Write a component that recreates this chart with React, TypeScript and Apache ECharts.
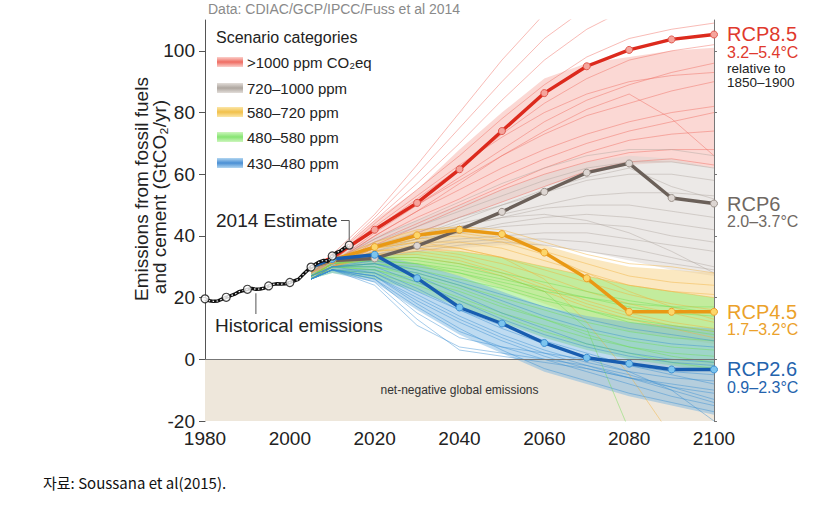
import React, { useEffect, useRef } from "react";
import * as echarts from "echarts";

const FONT = "Liberation Sans, Arial, Helvetica, sans-serif";

// ---- axis ticks ----
const X_TICKS = [1980, 2000, 2020, 2040, 2060, 2080, 2100];
const Y_TICKS = [-20, 0, 20, 40, 60, 80, 100];

// ---- historical emissions (GtCO2/yr) ----
const HIST_YEARS = [
  1980, 1981, 1982, 1983, 1984, 1985, 1986, 1987, 1988, 1989, 1990, 1991, 1992, 1993, 1994, 1995, 1996,
  1997, 1998, 1999, 2000, 2001, 2002, 2003, 2004, 2005, 2006, 2007, 2008, 2009, 2010, 2011, 2012, 2013, 2014,
];
const HIST_VALUES = [
  19.6, 19.0, 18.8, 18.9, 19.5, 20.1, 20.6, 21.1, 21.9, 22.3, 22.7, 23.0, 22.7, 22.8, 23.1, 23.8, 24.3,
  24.5, 24.4, 24.5, 24.9, 25.4, 25.9, 27.3, 28.6, 29.9, 30.8, 31.6, 32.1, 31.8, 33.5, 34.6, 35.2, 36.2, 37.0,
];
const HIST_MARKER_YEARS = [1980, 1985, 1990, 1995, 2000, 2005, 2010, 2014];

// ---- scenario years ----
const SCEN_YEARS = [2005, 2010, 2020, 2030, 2040, 2050, 2060, 2070, 2080, 2090, 2100];

// ---- RCP pathways ----
const RCP85 = [29.9, 33.0, 42.0, 50.7, 61.6, 74.0, 86.3, 95.0, 100.3, 103.7, 105.3];
const RCP6 = [29.9, 32.0, 32.7, 36.8, 42.0, 47.8, 54.3, 60.5, 63.5, 52.3, 50.5];
const RCP45 = [29.9, 32.2, 36.4, 40.2, 42.0, 40.6, 34.6, 26.3, 15.4, 15.4, 15.4];
const RCP26 = [29.9, 32.5, 33.9, 26.3, 16.8, 11.6, 5.3, 0.5, -1.4, -3.3, -3.3];

// ---- scenario category envelopes (dense part of each bundle) ----
const RED_LOW = [26, 29, 35, 40, 46, 51, 56, 60, 63, 64, 62];
const RED_HIGH = [30, 33, 45, 55, 68, 80, 91, 96, 98, 100, 101];
const GRAY_LOW = [27, 29, 32, 34, 36, 37, 37, 35, 32, 29, 27];
const GRAY_HIGH = [30, 33, 40, 45, 50, 55, 60, 64, 66, 65, 62];
const ORANGE_LOW = [26, 29, 31, 30, 27, 23, 18, 13, 9, 7, 5];
const ORANGE_HIGH = [30, 33, 38, 42, 43, 41, 37, 33, 30, 29, 28];
const GREEN_LOW = [26, 28, 26, 22, 17, 12, 7, 3, 0, -2, -4];
const GREEN_HIGH = [29, 32, 33, 35, 35, 33, 30, 27, 24, 22, 20];
const BLUE_LOW = [26, 28, 25, 16, 8, 2, -4, -8, -12, -15, -18];
const BLUE_HIGH = [29, 32, 34, 31, 27, 22, 17, 14, 12, 11, 10];

// ---- individual scenario lines ----
const RED_LINES = [
  [29, 34, 47, 63, 80, 97, 112, 125, 135, 142, 148],
  [28, 33, 46, 60, 75, 90, 104, 114, 122, 128, 133],
  [28, 33, 45, 57, 70, 84, 97, 107, 114, 118, 121],
  [28, 32, 44, 55, 66, 78, 89, 98, 104, 107, 109],
  [27, 32, 42, 52, 62, 73, 83, 91, 97, 100, 102],
  [27, 31, 41, 50, 59, 68, 77, 84, 89, 93, 96],
  [28, 32, 42, 50, 58, 66, 73, 79, 83, 87, 90],
  [27, 31, 40, 48, 55, 62, 68, 73, 77, 80, 82],
  [27, 31, 39, 46, 52, 59, 65, 70, 74, 77, 80],
  [27, 30, 38, 44, 50, 56, 62, 67, 71, 73, 74],
  [26, 30, 37, 43, 49, 55, 60, 64, 67, 68, 68],
  [27, 31, 40, 48, 57, 66, 74, 81, 86, 78, 66],
  [26, 30, 36, 41, 46, 51, 56, 61, 64, 65, 63],
  [28, 32, 43, 53, 63, 72, 80, 86, 90, 92, 93],
];
const GRAY_LINES = [
  [28, 32, 39, 45, 51, 57, 62, 66, 68, 68, 66],
  [28, 32, 38, 43, 48, 53, 58, 62, 64, 64, 62],
  [27, 31, 37, 41, 46, 50, 54, 58, 60, 60, 58],
  [27, 31, 36, 40, 44, 47, 50, 53, 54, 54, 53],
  [28, 31, 37, 40, 43, 46, 49, 50, 50, 48, 46],
  [27, 30, 35, 38, 41, 44, 46, 47, 46, 44, 42],
  [27, 31, 36, 39, 41, 43, 44, 44, 43, 40, 38],
  [27, 30, 34, 37, 39, 40, 41, 41, 39, 37, 35],
  [26, 30, 34, 36, 38, 39, 39, 38, 36, 33, 30],
  [27, 30, 35, 39, 43, 46, 47, 45, 41, 35, 28],
  [27, 31, 36, 40, 45, 50, 55, 59, 62, 56, 52],
  [26, 30, 33, 35, 37, 38, 37, 35, 33, 31, 29],
];
const ORANGE_LINES = [
  [28, 32, 38, 42, 43, 42, 38, 34, 31, 30, 28],
  [28, 31, 37, 40, 41, 39, 35, 31, 27, 25, 24],
  [27, 31, 36, 38, 38, 36, 32, 28, 24, 22, 20],
  [27, 31, 35, 37, 36, 33, 29, 25, 21, 18, 16],
  [27, 30, 35, 36, 34, 31, 27, 22, 18, 15, 12],
  [27, 30, 34, 35, 33, 29, 24, 19, 15, 12, 10],
  [26, 30, 33, 33, 31, 27, 22, 17, 13, 10, 7],
  [27, 31, 36, 39, 40, 38, 34, 28, 22, 17, 13],
  [26, 30, 34, 34, 32, 28, 23, 18, 14, 11, 9],
  [27, 30, 35, 36, 35, 33, 30, 27, 24, 22, 21],
  [27, 31, 36, 38, 36, 33, 26, 12, -5, -25, null],
];
const GREEN_LINES = [
  [27, 31, 33, 33, 31, 28, 25, 22, 19, 17, 15],
  [27, 31, 32, 31, 29, 26, 23, 20, 17, 15, 14],
  [26, 30, 31, 29, 26, 23, 19, 16, 13, 11, 9],
  [26, 30, 30, 28, 24, 20, 16, 12, 9, 7, 6],
  [26, 30, 29, 26, 22, 17, 13, 9, 6, 4, 3],
  [27, 30, 30, 27, 23, 18, 13, 8, 4, 1, -1],
  [26, 29, 28, 24, 19, 14, 9, 5, 2, -1, -3],
  [27, 30, 31, 30, 28, 25, 22, 20, 18, 17, 17],
  [26, 30, 29, 25, 20, 15, 11, 7, 4, 2, 1],
  [27, 31, 32, 31, 28, 24, 20, 16, 12, 10, 8],
  [27, 31, 33, 32, 30, 27, 22, 10, -23, null, null],
];
const BLUE_LINES = [
  [26, 30, 30, 25, 19, 13, 8, 4, 1, -1, -2],
  [27, 30, 31, 27, 21, 15, 10, 5, 2, 0, -1],
  [26, 29, 29, 23, 16, 10, 5, 1, -2, -4, -5],
  [26, 29, 28, 21, 14, 8, 3, -1, -4, -6, -7],
  [27, 30, 31, 28, 24, 19, 14, 10, 7, 5, 4],
  [26, 29, 27, 19, 12, 6, 1, -3, -6, -9, -11],
  [26, 29, 26, 17, 9, 4, 0, -4, -8, -12, -15],
  [27, 30, 32, 29, 25, 21, 17, 13, 10, 8, 6],
  [26, 29, 27, 20, 13, 7, 2, -2, -6, -10, -14],
  [26, 29, 25, 13, 3, 1, -1, -3, -6, -8, -10],
  [26, 29, 26, 15, 7, 4, 2, 0, -4, -10, -20],
  [26, 30, 28, 22, 16, 11, 6, 2, -2, -5, -8],
  [26, 29, 24, 11, 4, 2, 0, -2, -5, -9, -13],
  [26, 29, 27, 18, 10, 3, -3, -7, -11, -14, -17],
];

// ---- legend / labels text ----
const LEGEND_TITLE = "Scenario categories";
const LEGEND_LABELS = [">1000 ppm CO₂eq", "720–1000 ppm", "580–720 ppm", "480–580 ppm", "430–480 ppm"];
const RCP_NAMES = ["RCP8.5", "RCP6", "RCP4.5", "RCP2.6"];
const RCP_RANGES = ["3.2–5.4°C", "2.0–3.7°C", "1.7–3.2°C", "0.9–2.3°C"];

// ---- styles ----
const CAT_STYLE = [
  { line: "#f0685d", band: "#f7a8a0", light: "#fbd0cb", mid: "#ef6c62", op: 0.45 },
  { line: "#b0a69f", band: "#d9d3cf", light: "#e2ddd9", mid: "#aea69f", op: 0.5 },
  { line: "#f1b23c", band: "#f7d283", light: "#fbe6a8", mid: "#f1c04a", op: 0.5 },
  { line: "#6ede55", band: "#9fee86", light: "#cdf6bd", mid: "#86e472", op: 0.6 },
  { line: "#3a8fd3", band: "#6fb0e0", light: "#b2d6f1", mid: "#4a8fd4", op: 0.45 },
];
const RCP_STYLE = [
  { line: "#dc2a1d", fill: "#f5a49c", border: "#e05a50", label: "#e0392d" },
  { line: "#6b6059", fill: "#ddd6d2", border: "#9c928b", label: "#6f6863" },
  { line: "#e99914", fill: "#fcd66a", border: "#eba12a", label: "#eba12a" },
  { line: "#185db0", fill: "#7cc4ee", border: "#3d8fd2", label: "#2463ad" },
];

function pairs(vals: (number | null)[]) {
  return SCEN_YEARS.map((y, i) => [y, vals[i]]);
}

function bandSeries(low: number[], high: number[], color: string, opacity: number) {
  return {
    type: "custom",
    silent: true,
    z: 2,
    data: [[SCEN_YEARS[0], low[0]]],
    renderItem: (_params: any, api: any) => {
      const pts: number[][] = [];
      SCEN_YEARS.forEach((y, i) => pts.push(api.coord([y, high[i]])));
      for (let i = SCEN_YEARS.length - 1; i >= 0; i--) pts.push(api.coord([SCEN_YEARS[i], low[i]]));
      return { type: "polygon", shape: { points: pts }, style: { fill: color, opacity } };
    },
  };
}

function lineSeries(rows: (number | null)[][], color: string, opacity: number) {
  return rows.map((r) => ({
    type: "line",
    data: pairs(r),
    symbol: "none",
    silent: true,
    lineStyle: { color, width: 1, opacity },
    z: 3,
  }));
}

function rcpSeries(vals: number[], st: any, name: string) {
  return {
    type: "line",
    name,
    data: SCEN_YEARS.map((y, i) => (i === 0 ? { value: [y, vals[i]], symbolSize: 0 } : [y, vals[i]])),
    symbol: "circle",
    symbolSize: 7,
    showAllSymbol: true,
    lineStyle: { color: st.line, width: 3.4 },
    itemStyle: { color: st.fill, borderColor: st.border, borderWidth: 1 },
    z: 8,
  };
}

export default function App() {
  const ref = useRef<HTMLDivElement>(null);

  useEffect(() => {
    if (!ref.current) return;
    const chart = echarts.init(ref.current, null, { renderer: "svg" });

    const bandsAndLines: any[] = [];
    const cats = [
      [RED_LOW, RED_HIGH, RED_LINES],
      [GRAY_LOW, GRAY_HIGH, GRAY_LINES],
      [ORANGE_LOW, ORANGE_HIGH, ORANGE_LINES],
      [GREEN_LOW, GREEN_HIGH, GREEN_LINES],
      [BLUE_LOW, BLUE_HIGH, BLUE_LINES],
    ] as any[];
    cats.forEach((c, i) => {
      bandsAndLines.push(bandSeries(c[0], c[1], CAT_STYLE[i].band, CAT_STYLE[i].op));
      bandsAndLines.push(...lineSeries(c[2], CAT_STYLE[i].line, 0.45));
    });

    const series: any[] = [
      {
        type: "line",
        data: [],
        silent: true,
        z: 1,
        markArea: {
          silent: true,
          itemStyle: { color: "#eee7db" },
          label: {
            show: true,
            position: "inside",
            color: "#333",
            fontSize: 12,
            fontFamily: FONT,
          },
          data: [[{ xAxis: 1980, yAxis: -20, name: "net-negative global emissions" }, { xAxis: 2100, yAxis: 0 }]],
        },
        markLine: {
          silent: true,
          symbol: "none",
          label: { show: false },
          lineStyle: { color: "#777", width: 1, type: "solid" },
          data: [{ yAxis: 0 }],
        },
      },
      ...bandsAndLines,
      rcpSeries(RCP85, RCP_STYLE[0], "RCP8.5"),
      rcpSeries(RCP6, RCP_STYLE[1], "RCP6"),
      rcpSeries(RCP45, RCP_STYLE[2], "RCP4.5"),
      rcpSeries(RCP26, RCP_STYLE[3], "RCP2.6"),
      {
        type: "line",
        data: HIST_YEARS.map((y, i) => [y, HIST_VALUES[i]]),
        symbol: "none",
        silent: true,
        lineStyle: { color: "#111", width: 3.4 },
        z: 10,
      },
      {
        type: "line",
        data: HIST_YEARS.map((y, i) => [y, HIST_VALUES[i]]),
        symbol: "none",
        silent: true,
        lineStyle: { color: "#fff", width: 1.2, type: [1.5, 2.5] },
        z: 11,
      },
      {
        type: "scatter",
        data: HIST_MARKER_YEARS.map((y) => [y, HIST_VALUES[HIST_YEARS.indexOf(y)]]),
        symbol: "circle",
        symbolSize: 8,
        itemStyle: { color: "#fff", borderColor: "#111", borderWidth: 1.2 },
        z: 12,
      },
    ];

    chart.setOption({
      animation: false,
      grid: { left: 205, right: 126, top: 20, bottom: 91 },
      xAxis: [
        {
          type: "value",
          min: 1980,
          max: 2100,
          interval: 20,
          position: "bottom",
          axisLine: { show: true, lineStyle: { color: "#555", width: 1 } },
          axisTick: { show: true, length: 4, lineStyle: { color: "#555" }, customValues: X_TICKS },
          axisLabel: {
            fontSize: 19,
            color: "#222",
            fontFamily: FONT,
            margin: 8,
            customValues: X_TICKS,
            formatter: (v: number) => String(v),
          },
          splitLine: { show: false },
        },
        {
          type: "value",
          min: 1980,
          max: 2100,
          interval: 20,
          position: "top",
          axisLine: { show: true, lineStyle: { color: "#777", width: 1 } },
          axisTick: { show: true, inside: true, length: 4, lineStyle: { color: "#777" } },
          axisLabel: { show: false },
          splitLine: { show: false },
        },
      ],
      yAxis: [
        {
          type: "value",
          min: -20,
          max: 110,
          interval: 20,
          position: "left",
          axisLine: { show: true, lineStyle: { color: "#555", width: 1 } },
          axisTick: { show: true, length: 6, lineStyle: { color: "#555" }, customValues: Y_TICKS },
          axisLabel: {
            fontSize: 19,
            color: "#222",
            fontFamily: FONT,
            margin: 10,
            customValues: Y_TICKS,
            formatter: (v: number) => String(v),
          },
          splitLine: { show: false },
        },
        {
          type: "value",
          min: -20,
          max: 110,
          interval: 20,
          position: "right",
          axisLine: { show: true, lineStyle: { color: "#777", width: 1 } },
          axisTick: { show: true, length: 3, lineStyle: { color: "#777" }, customValues: Y_TICKS },
          axisLabel: { show: false },
          splitLine: { show: false },
        },
      ],
      series,
    });

    // ---- graphics: title, legend, axis name, annotations, RCP labels ----
    const g: any[] = [];
    const txt = (x: number, y: number, text: string, size: number, fill: string, extra: any = {}) => ({
      type: "text",
      x,
      y,
      z: 50,
      style: {
        text,
        fill,
        fontSize: size,
        fontFamily: FONT,
        align: "left",
        verticalAlign: "middle",
        textAlign: "left",
        textVerticalAlign: "middle",
        ...extra,
      },
    });

    g.push(txt(208, 9, "Data: CDIAC/GCP/IPCC/Fuss et al 2014", 14, "#8a8a8a"));

    // legend
    g.push(txt(216, 37, LEGEND_TITLE, 16, "#222"));
    const rowsY = [62, 88, 112, 137, 163];
    LEGEND_LABELS.forEach((lab, i) => {
      const st = CAT_STYLE[i];
      g.push({
        type: "rect",
        z: 50,
        shape: { x: 217, y: rowsY[i] - 5, width: 26, height: 10 },
        style: {
          fill: new echarts.graphic.LinearGradient(0, 0, 0, 1, [
            { offset: 0, color: st.light },
            { offset: 0.5, color: st.mid },
            { offset: 1, color: st.light },
          ]),
        },
      });
      g.push(txt(247, rowsY[i], lab, 15, "#222"));
    });

    // y axis name
    const vtext = (x: number, y: number, text: string) => ({
      type: "text",
      x,
      y,
      rotation: Math.PI / 2,
      z: 50,
      style: {
        text,
        fill: "#222",
        fontSize: 19,
        fontFamily: FONT,
        align: "center",
        verticalAlign: "middle",
        textAlign: "center",
        textVerticalAlign: "middle",
      },
    });
    g.push(vtext(141, 189, "Emissions from fossil fuels"));
    g.push(vtext(159, 197, "and cement (GtCO₂/yr)"));

    // annotations
    const p2014 = chart.convertToPixel({ gridIndex: 0 }, [2014, HIST_VALUES[HIST_YEARS.indexOf(2014)]]) as number[];
    g.push(txt(216, 220, "2014 Estimate", 19, "#222"));
    g.push({
      type: "polyline",
      z: 50,
      shape: { points: [[341, 220.5], [p2014[0], 220.5], [p2014[0], p2014[1] - 5]] },
      style: { stroke: "#555", lineWidth: 1, fill: null },
    });
    const p1992 = chart.convertToPixel({ gridIndex: 0 }, [1992, HIST_VALUES[HIST_YEARS.indexOf(1992)]]) as number[];
    g.push({
      type: "line",
      z: 50,
      shape: { x1: p1992[0], y1: p1992[1] + 4, x2: p1992[0], y2: 314 },
      style: { stroke: "#555", lineWidth: 1 },
    });
    g.push(txt(215, 325, "Historical emissions", 19, "#222"));

    // RCP labels at line ends
    const rcpVals = [RCP85, RCP6, RCP45, RCP26];
    rcpVals.forEach((vals, i) => {
      const p = chart.convertToPixel({ gridIndex: 0 }, [2100, vals[vals.length - 1]]) as number[];
      const x = p[0] + 13;
      const col = RCP_STYLE[i].label;
      g.push(txt(x, p[1], RCP_NAMES[i], 20, col));
      g.push(txt(x, p[1] + 18, RCP_RANGES[i], 16, col));
      if (i === 0) {
        g.push(txt(x, p[1] + 34, "relative to", 13.5, "#222"));
        g.push(txt(x, p[1] + 48, "1850–1900", 13.5, "#222"));
      }
    });

    // caption
    g.push({
      type: "text",
      x: 43,
      y: 482,
      z: 50,
      style: {
        text: "자료: Soussana et al(2015).",
        fill: "#111",
        fontSize: 15,
        fontFamily: "Noto Sans CJK KR, Noto Sans, sans-serif",
        align: "left",
        verticalAlign: "middle",
        textAlign: "left",
        textVerticalAlign: "middle",
      },
    });

    chart.setOption({ graphic: g });

    return () => chart.dispose();
  }, []);

  return (
    <div
      ref={ref}
      style={{ position: "absolute", left: 0, top: 0, width: 840, height: 512, background: "#fff" }}
    />
  );
}
